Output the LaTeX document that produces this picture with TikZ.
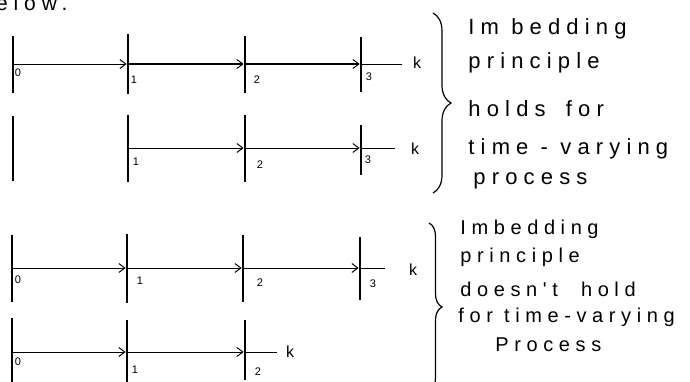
\documentclass[tikz,border=0pt]{standalone}
\usepackage{fontspec}
\setmainfont{Liberation Sans}
\newfontfamily\handfont[LetterSpace=28]{Liberation Sans}
\usetikzlibrary{positioning,arrows.meta,decorations.pathreplacing}

\begin{document}
\begin{tikzpicture}[x=1pt, y=-1pt, line width=0.9pt,
  >={Straight Barb[length=6pt,width=9pt,line width=1pt]},
  tickmark/.style={fill=black, inner sep=0pt, minimum width=1.8pt, minimum height=#1},
  num/.style={font=\fontsize{11}{11}\selectfont, inner sep=0pt},
  kvar/.style={font=\fontsize{16}{16}\selectfont, inner sep=1pt},
  note/.style 2 args={font=\handfont\fontsize{#1}{#2}\selectfont, align=left, inner sep=0pt, anchor=north west},
  hbrace/.style={decorate, decoration={brace, amplitude=#1}, line width=1.2pt}]
  \useasboundingbox (0,0) rectangle (690,381);

  % text cut at the top of the page
  \node[font=\handfont\fontsize{21}{21}\selectfont, inner sep=0pt, anchor=base east] (below) at (68,10) {below.};

  % first time line
  \node[tickmark=57pt] (a0) at (13,64) {};
  \node[tickmark=60pt] (a1) at (128,64) {};
  \node[tickmark=57pt] (a2) at (245,64) {};
  \node[tickmark=55pt] (a3) at (361,64) {};
  \coordinate (ae) at (402,64);
  \node[kvar] (ka) at (417,63) {k};
  \draw[->] (a0) -- (a1);
  \draw[->, line width=1.2pt] (a1) -- (a2);
  \draw[->, line width=1.4pt] (a2) -- (a3);
  \draw (a3) -- (ae);
  \node[num] (la0) at (18,73) {0};
  \node[num] (la1) at (134,80) {1};
  \node[num] (la2) at (257,80) {2};
  \node[num] (la3) at (369,77) {3};

  % second time line
  \node[tickmark=65pt] (b0) at (13,148) {};
  \node[tickmark=67pt] (b1) at (128,148) {};
  \node[tickmark=67pt] (b2) at (245,148) {};
  \node[tickmark=50pt] (b3) at (361,150) {};
  \coordinate (be) at (395,148);
  \node[kvar] (kb) at (415,149) {k};
  \draw[->] (b1) -- (b2);
  \draw[->] (b2) -- (b2 -| b3.west);
  \draw (b2 -| b3.east) -- (be);
  \node[num] (lb1) at (136,162) {1};
  \node[num] (lb2) at (260,165) {2};
  \node[num] (lb3) at (368,160) {3};

  % third time line
  \node[tickmark=67pt] (c0) at (12,268) {};
  \node[tickmark=69pt] (c1) at (127,268) {};
  \node[tickmark=67pt] (c2) at (243,268) {};
  \node[tickmark=63pt] (c3) at (360,268) {};
  \coordinate (ce) at (385,268);
  \node[kvar] (kc) at (413,270) {k};
  \draw[->] (c0) -- (c1);
  \draw[->] (c1) -- (c2);
  \draw[->] (c2) -- (c3);
  \draw (c3) -- (ce);
  \node[num] (lc0) at (18,280) {0};
  \node[num] (lc1) at (140,281) {1};
  \node[num] (lc2) at (260,283) {2};
  \node[num] (lc3) at (373,284) {3};

  % fourth time line
  \node[tickmark=68pt] (d0) at (12,352) {};
  \node[tickmark=64pt] (d1) at (127,352) {};
  \node[tickmark=60pt] (d2) at (245,350) {};
  \coordinate (de) at (277,352);
  \node[kvar] (kd) at (290,352) {k};
  \draw[->] (d0) -- (d1);
  \draw[->] (d1) -- (d1 -| d2.west);
  \draw (d1 -| d2.east) -- (de);
  \node[num] (ld0) at (18,362) {0};
  \node[num] (ld1) at (135,370) {1};
  \node[num] (ld2) at (258,372) {2};

  % braces and remarks
  \draw[hbrace=18pt] (433,13) -- (433,193);
  \node[note={22}{37}] (holds) at (468,18) {Im bedding\\[-3pt]
    principle\\[11pt]
    holds\hspace{8pt} for\\[1pt]
    time - varying\\[-7pt]
    \hspace{5pt}process};

  \draw[hbrace=13pt] (429,223) -- (429,391);
  \node[note={20}{29}] (nothold) at (460,220) {Imbedding\\[-1pt]
    principle\\[5pt]
    doesn't\hspace{12pt} hold\\[-3pt]
    \hspace{-2pt}for time-varying\\
    \hspace{35pt}Process};
\end{tikzpicture}
\end{document}
